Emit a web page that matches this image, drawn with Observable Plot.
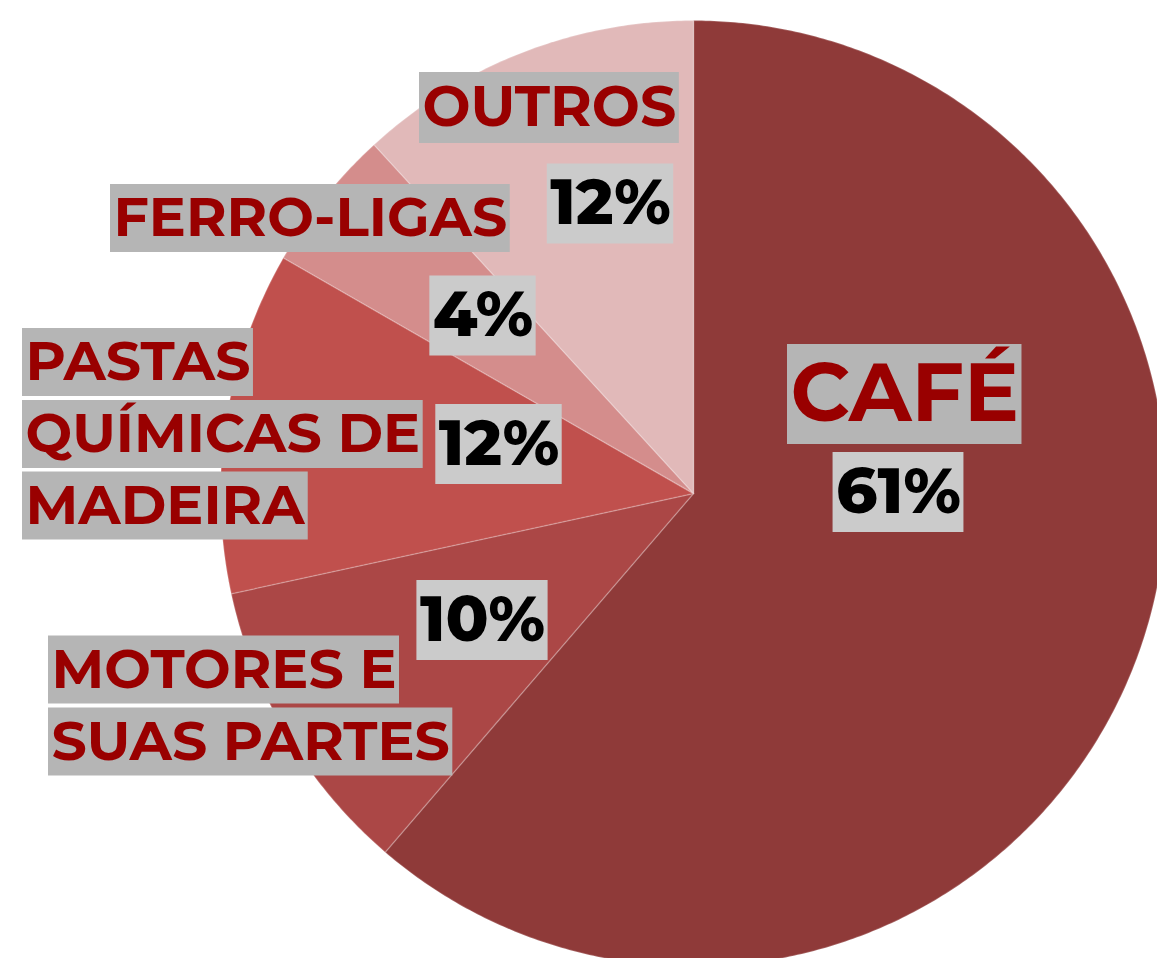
<!DOCTYPE html>
<html>
<head>
<meta charset="utf-8">
<script src="https://cdn.jsdelivr.net/npm/d3@7"></script>
<script src="https://cdn.jsdelivr.net/npm/@observablehq/plot@0.6"></script>
<style>
  html, body { margin: 0; padding: 0; background: #fff; overflow: hidden; }
  #chart svg { display: block; overflow: hidden; }
</style>
</head>
<body>
<div id="chart"></div>
<script>
// ---- Data ----
const categories = ["Café", "Motores e suas partes", "Pastas químicas de madeira", "Ferro-ligas", "Outros"];
const shares = [61.3, 10.3, 11.7, 4.9, 11.8];          // slice sizes as drawn
const pctLabels = ["61%", "10%", "12%", "4%", "12%"];   // printed percentages
const labelLines = ["CAFÉ", "MOTORES E", "SUAS PARTES", "PASTAS", "QUÍMICAS DE", "MADEIRA", "FERRO-LIGAS", "OUTROS"];
const colors = ["#8f3a39", "#ab4746", "#c0504d", "#d48d8c", "#e1b9b9"];

// ---- Layout (pixels) ----
const W = 1157, H = 958, CX = 693, CY = 493, R = 473;
// [left x, center y, font size, box height]
const labelLayout = [
  [790, 394, 82, 100],
  [51, 669.5, 55.3, 68],
  [51, 741.5, 55.3, 68],
  [25, 362, 55.3, 68],
  [25, 434, 55.3, 68],
  [25, 505.5, 55.3, 68],
  [113, 218, 55.3, 68],
  [422, 107.5, 57, 71]
];
// [center x, center y, font size, box height]
const pctLayout = [
  [898, 492, 64, 80],
  [482, 620, 63, 80],
  [498.5, 444, 63, 80],
  [482.5, 315.5, 64, 80],
  [610, 203.5, 63, 80]
];

const ux = px => (px - CX) / R;
const uy = py => (py - CY) / R;

// slices -> polygons on the unit circle
const slices = categories.map((c, i) => ({cat: c, share: shares[i]}));
const arcs = d3.pie().sort(null).value(d => d.share)(slices);
const pts = [];
for (const a of arcs) {
  const cat = a.data.cat;
  pts.push({cat, u: 0, v: 0});
  const n = Math.max(2, Math.ceil((a.endAngle - a.startAngle) / (Math.PI / 360)));
  for (let k = 0; k <= n; k++) {
    const t = a.startAngle + (a.endAngle - a.startAngle) * k / n;
    pts.push({cat, u: Math.sin(t), v: -Math.cos(t)});
  }
  pts.push({cat, u: 0, v: 0});
}

const labelRows = labelLines.map((t, i) => ({text: t, x: ux(labelLayout[i][0]), y: uy(labelLayout[i][1]), fs: labelLayout[i][2], bh: labelLayout[i][3]}));
const pctRows = pctLabels.map((t, i) => ({text: t, x: ux(pctLayout[i][0]), y: uy(pctLayout[i][1]), fs: pctLayout[i][2], bh: pctLayout[i][3]}));

const FONT = "Montserrat, Inter, 'Open Sans', sans-serif";

const plot = Plot.plot({
  width: W,
  height: H,
  margin: 0,
  style: {background: "#fff"},
  x: {domain: [ux(0), ux(W)], axis: null},
  y: {domain: [uy(0), uy(H)], range: [0, H], axis: null},
  color: {domain: categories, range: colors},
  marks: [
    Plot.line(pts, {x: "u", y: "v", z: "cat", fill: "cat", stroke: "#ffffff", strokeOpacity: 0.2, strokeWidth: 1.5, curve: "linear"}),
    Plot.text(labelRows, {x: "x", y: "y", text: "text", fontSize: "fs", textAnchor: "start", lineAnchor: "middle",
      fill: "#990000", fontWeight: 700, fontFamily: FONT}),
    Plot.text(pctRows, {x: "x", y: "y", text: "text", fontSize: "fs", textAnchor: "middle", lineAnchor: "middle",
      fill: "#000000", fontWeight: 800, fontFamily: FONT})
  ]
});
document.getElementById("chart").appendChild(plot);

// grey highlight boxes behind each text line
const ys = plot.scale("y");
const textGroups = plot.querySelectorAll('g[aria-label="text"]');
function boxes(g, rows, bg, pad) {
  if (!g) return;
  const back = document.createElementNS("http://www.w3.org/2000/svg", "g");
  g.parentNode.insertBefore(back, g);
  g.querySelectorAll("text").forEach((t, i) => {
    const bb = t.getBBox();
    const m = t.transform && t.transform.baseVal.numberOfItems ? t.transform.baseVal.consolidate().matrix : {e: 0, f: 0};
    const cy = ys.apply(rows[i].y);
    const r = document.createElementNS("http://www.w3.org/2000/svg", "rect");
    r.setAttribute("x", m.e + bb.x - pad);
    r.setAttribute("width", bb.width + 2 * pad);
    r.setAttribute("y", cy - rows[i].bh / 2);
    r.setAttribute("height", rows[i].bh);
    r.setAttribute("fill", bg);
    back.appendChild(r);
  });
}
boxes(textGroups[0], labelRows, "#b5b5b5", 3);
boxes(textGroups[1], pctRows, "#cbcbcb", 3);
</script>
</body>
</html>
